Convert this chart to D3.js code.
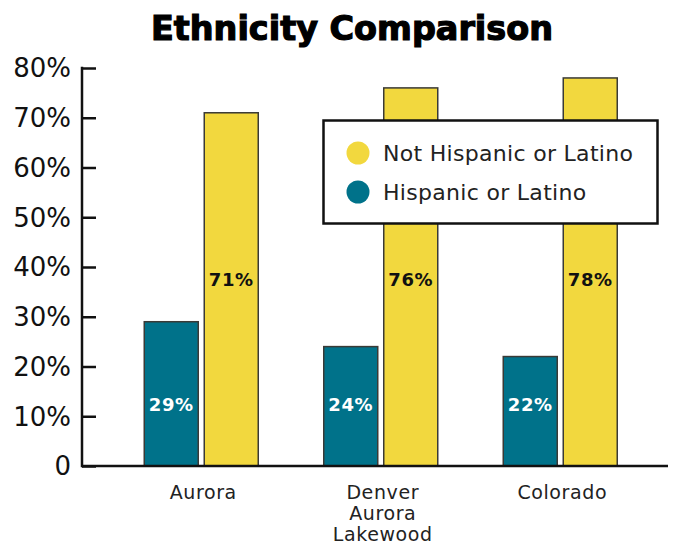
<!DOCTYPE html>
<html>
<head>
<meta charset="utf-8">
<script src="https://cdn.jsdelivr.net/npm/d3@7"></script>
<style>
html,body{margin:0;padding:0;background:#fff;}
svg{display:block;}
</style>
</head>
<body>
<svg id="chart" width="676" height="548"></svg>
<script>
const categories = [["Aurora"], ["Denver", "Aurora", "Lakewood"], ["Colorado"]];
const categoryKeys = ["Aurora", "Denver Aurora Lakewood", "Colorado"];
const seriesNames = ["Hispanic or Latino", "Not Hispanic or Latino"];
const hispanic = [29, 24, 22];
const notHispanic = [71, 76, 78];
const yTicks = [0, 10, 20, 30, 40, 50, 60, 70, 80];
const yTickLabels = ["0", "10%", "20%", "30%", "40%", "50%", "60%", "70%", "80%"];
const colors = ["#00728a", "#f2d83e"];
const title = "Ethnicity Comparison";

const svg = d3.select("#chart");
const axisX = 82, yBottom = 466, yTop = 68;

const y = d3.scaleLinear().domain([0, 80]).range([yBottom, yTop]);
const x0 = d3.scaleBand().domain(categoryKeys).range([111.5, 650]).padding(0);
const x1 = d3.scaleBand().domain(seriesNames).range([0, 114]).paddingInner(0.1).paddingOuter(0);
const color = d3.scaleOrdinal().domain(seriesNames).range(colors);

// Title
svg.append("text")
  .attr("x", 352).attr("y", 40)
  .attr("text-anchor", "middle")
  .attr("font-family", "DejaVu Sans")
  .attr("font-weight", "bold")
  .attr("font-size", 33)
  .attr("fill", "#000")
  .attr("stroke", "#000").attr("stroke-width", 1.2)
  .attr("textLength", 402).attr("lengthAdjust", "spacingAndGlyphs")
  .text(title);

// Bars
const data = categoryKeys.map((c, i) => ({cat: c, vals: [
  {s: seriesNames[0], v: hispanic[i]},
  {s: seriesNames[1], v: notHispanic[i]}
]}));

const groups = svg.append("g").selectAll("g").data(data).join("g")
  .attr("transform", d => `translate(${x0(d.cat) + x0.bandwidth()/2 - 57},0)`);

groups.selectAll("rect").data(d => d.vals).join("rect")
  .attr("x", d => x1(d.s))
  .attr("y", d => y(d.v))
  .attr("width", x1.bandwidth())
  .attr("height", d => y(0) - y(d.v))
  .attr("fill", d => color(d.s))
  .attr("stroke", "#3a3a36")
  .attr("stroke-width", 1.5);

groups.selectAll("text.val").data(d => d.vals).join("text")
  .attr("class", "val")
  .attr("x", d => x1(d.s) + x1.bandwidth()/2)
  .attr("y", d => d.s === seriesNames[0] ? y(12.3) : y(37.4))
  .attr("dy", "0.35em")
  .attr("text-anchor", "middle")
  .attr("font-family", "DejaVu Sans")
  .attr("font-weight", "bold")
  .attr("font-size", 18)
  .attr("letter-spacing", 0.6)
  .attr("fill", d => d.s === seriesNames[0] ? "#fff" : "#111")
  .text(d => d.v + "%");

// Y axis
const yAxis = d3.axisRight(y).tickValues(yTicks).tickSize(14).tickFormat("");
const yg = svg.append("g").attr("transform", `translate(${axisX},0)`).call(yAxis);
yg.select(".domain").remove();
yg.selectAll(".tick line").attr("stroke", "#111").attr("stroke-width", 2.5);
svg.append("line")
  .attr("x1", axisX).attr("x2", axisX)
  .attr("y1", y(80) - 1.25).attr("y2", yBottom + 1.25)
  .attr("stroke", "#111").attr("stroke-width", 2.5);
svg.append("g").selectAll("text").data(yTicks).join("text")
  .attr("x", 71).attr("y", d => y(d))
  .attr("dy", "0.36em")
  .attr("text-anchor", "end")
  .attr("font-family", "DejaVu Sans")
  .attr("font-size", 26)
  .attr("fill", "#111")
  .text((d, i) => yTickLabels[i]);

// X axis line
svg.append("line")
  .attr("x1", axisX).attr("x2", 668)
  .attr("y1", yBottom).attr("y2", yBottom)
  .attr("stroke", "#111").attr("stroke-width", 2.5);

// Category labels
categoryKeys.forEach((c, i) => {
  const t = svg.append("text")
    .attr("text-anchor", "middle")
    .attr("font-family", "DejaVu Sans")
    .attr("font-size", 19)
    .attr("letter-spacing", 0.6)
    .attr("fill", "#222");
  categories[i].forEach((line, j) => {
    t.append("tspan")
      .attr("x", x0(c) + x0.bandwidth()/2 + 2)
      .attr("y", 499 + j * 21)
      .text(line);
  });
});

// Legend
const lg = svg.append("g");
lg.append("rect")
  .attr("x", 323.5).attr("y", 120.5)
  .attr("width", 334).attr("height", 103)
  .attr("fill", "#fff").attr("stroke", "#111").attr("stroke-width", 2.5);
const legendItems = [seriesNames[1], seriesNames[0]];
legendItems.forEach((s, i) => {
  lg.append("circle").attr("cx", 358).attr("cy", 153 + i * 39).attr("r", 11.5).attr("fill", color(s));
  lg.append("text")
    .attr("x", 383).attr("y", 153 + i * 39)
    .attr("dy", "0.36em")
    .attr("font-family", "DejaVu Sans")
    .attr("font-size", 22)
    .attr("letter-spacing", 0.3)
    .attr("fill", "#222")
    .text(s);
});
</script>
</body>
</html>
